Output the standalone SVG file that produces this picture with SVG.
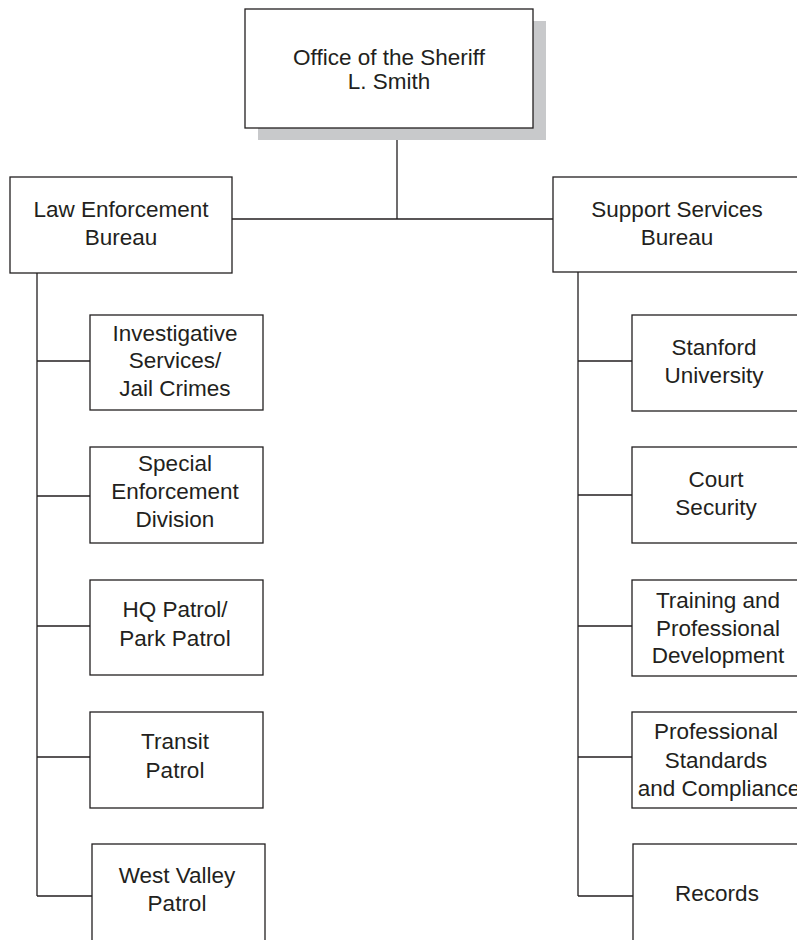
<svg xmlns="http://www.w3.org/2000/svg" width="797" height="940" viewBox="0 0 797 940">
  <style>
    .box { fill: #ffffff; stroke: #231f20; stroke-width: 1.3; }
    .shadow { fill: #c8c9cb; stroke: none; }
    .wire { fill: none; stroke: #231f20; stroke-width: 1.3; }
    text { font-family: "Liberation Sans", Arial, sans-serif; font-size: 22.5px; fill: #231f20; text-anchor: middle; }
  </style>
  <rect width="797" height="940" fill="#ffffff"/>

  <!-- connectors -->
  <g id="connectors">
    <path class="wire" d="M397,128 V219 M232,219 H553"/>
    <path class="wire" d="M37,273 V896 M37,361 H90 M37,496 H90 M37,626 H90 M37,757 H90 M37,896 H92"/>
    <path class="wire" d="M578,272 V896 M578,361 H632 M578,495 H632 M578,626 H632 M578,757 H632 M578,896 H633"/>
  </g>

  <!-- top -->
  <g id="sheriff">
    <rect class="shadow" x="258" y="21" width="288" height="119"/>
    <rect class="box" x="245" y="9" width="288" height="119"/>
    <text x="389" y="65">Office of the Sheriff</text>
    <text x="389" y="89">L. Smith</text>
  </g>

  <!-- bureaus -->
  <g id="law-enforcement">
    <rect class="box" x="10" y="177" width="222" height="96"/>
    <text x="121" y="217">Law Enforcement</text>
    <text x="121" y="245">Bureau</text>
  </g>
  <g id="support-services">
    <rect class="box" x="553" y="177" width="250" height="95"/>
    <text x="677" y="217">Support Services</text>
    <text x="677" y="245">Bureau</text>
  </g>

  <!-- law enforcement divisions -->
  <g id="investigative">
    <rect class="box" x="90" y="315" width="173" height="95"/>
    <text x="175" y="341">Investigative</text>
    <text x="175" y="368">Services/</text>
    <text x="175" y="396">Jail Crimes</text>
  </g>
  <g id="special-enforcement">
    <rect class="box" x="90" y="447" width="173" height="96"/>
    <text x="175" y="471">Special</text>
    <text x="175" y="499">Enforcement</text>
    <text x="175" y="527">Division</text>
  </g>
  <g id="hq-patrol">
    <rect class="box" x="90" y="580" width="173" height="95"/>
    <text x="175" y="617">HQ Patrol/</text>
    <text x="175" y="646">Park Patrol</text>
  </g>
  <g id="transit-patrol">
    <rect class="box" x="90" y="712" width="173" height="96"/>
    <text x="175" y="749">Transit</text>
    <text x="175" y="778">Patrol</text>
  </g>
  <g id="west-valley-patrol">
    <rect class="box" x="92" y="844" width="173" height="110"/>
    <text x="177" y="883">West Valley</text>
    <text x="177" y="911">Patrol</text>
  </g>

  <!-- support services units -->
  <g id="stanford">
    <rect class="box" x="632" y="315" width="175" height="96"/>
    <text x="714" y="355">Stanford</text>
    <text x="714" y="383">University</text>
  </g>
  <g id="court-security">
    <rect class="box" x="632" y="447" width="175" height="96"/>
    <text x="716" y="487">Court</text>
    <text x="716" y="515">Security</text>
  </g>
  <g id="training">
    <rect class="box" x="632" y="580" width="175" height="96"/>
    <text x="718" y="608">Training and</text>
    <text x="718" y="636">Professional</text>
    <text x="718" y="663">Development</text>
  </g>
  <g id="professional-standards">
    <rect class="box" x="632" y="712" width="175" height="96"/>
    <text x="716" y="739">Professional</text>
    <text x="716" y="768">Standards</text>
    <text x="719" y="796">and Compliance</text>
  </g>
  <g id="records">
    <rect class="box" x="633" y="844" width="175" height="110"/>
    <text x="717" y="901">Records</text>
  </g>
</svg>
